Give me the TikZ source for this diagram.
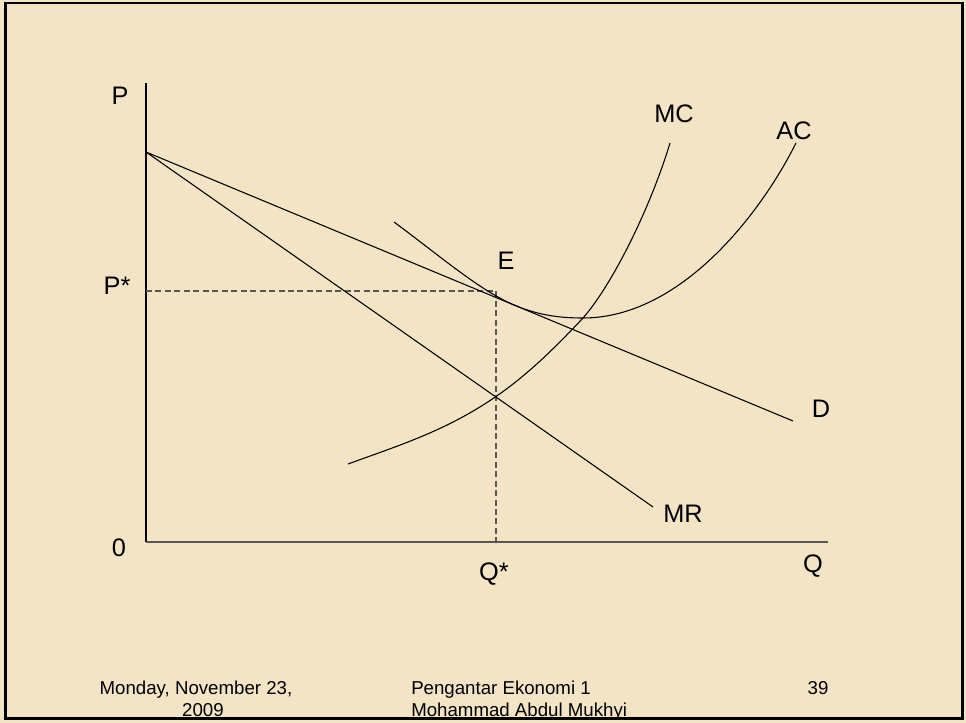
\documentclass[tikz,border=0pt]{standalone}
\usepackage{fontspec}
\setmainfont{Liberation Sans}
\usepackage{xcolor}
\usetikzlibrary{positioning}
\definecolor{paper}{RGB}{242,228,196}
\definecolor{axisgray}{RGB}{90,88,84}
\tikzset{
  lbl/.style={inner sep=0pt, anchor=base, font=\fontsize{19}{23}\selectfont},
  foot/.style={inner sep=0pt, anchor=base, font=\fontsize{14}{17}\selectfont},
  curve/.style={draw=black, line width=0.8pt},
  guide/.style={draw=axisgray, line width=1pt, dash pattern=on 4.5pt off 2.6pt},
  axis/.style={line width=1.1pt}
}

\begin{document}
\begin{tikzpicture}[x=0.75pt, y=-0.75pt]
  \useasboundingbox (0,0) rectangle (966,723);
  \fill[paper] (0,0) rectangle (966,723);
  % points of the diagram
  \coordinate (o) at (146,542);
  \coordinate (ytop) at (146,83);
  \coordinate (xend) at (828,542);
  \coordinate (a) at (146,152);
  \coordinate (dend) at (793,421);
  \coordinate (mrend) at (653,507);
  \coordinate (e) at (496,291);
  \coordinate (qs) at (496,542);
  \coordinate (ps) at (146,291);
  \coordinate (acmin) at (583,318);
  % axes and guides
  \draw[axis, black] (o) -- (ytop);
  \draw[axis, axisgray] (o) -- (xend);
  \draw[guide] (ps) -- (e) -- (qs);
  % demand and marginal revenue
  \draw[curve] (a) -- (dend);
  \draw[curve] (a) -- (mrend);
  % MC
  \draw[curve] (348,464) .. controls (398,445.7) and (446,431) .. (496,396.5)
    .. controls (526,375.8) and (552,351) .. (acmin)
    .. controls (612,285) and (650,209) .. (670,143);
  % AC
  \draw[curve] (394,222) .. controls (440,256) and (480,290.8) .. (515,305.4)
    .. controls (539,315.4) and (560,318) .. (acmin)
    .. controls (680,318) and (760,215) .. (796,143);
  % labels
  \node[lbl] (lp) at (120,105) {P};
  \node[lbl] (lps) at (117,295) {P*};
  \node[lbl] (lo) at (119,556) {0};
  \node[lbl] (lqs) at (494,580) {Q*};
  \node[lbl] (lq) at (813,572) {Q};
  \node[lbl] (le) at (506,270) {E};
  \node[lbl] (ld) at (821,417) {D};
  \node[lbl] (lmr) at (683,522) {MR};
  \node[lbl] (lmc) at (674,123) {MC};
  \node[lbl] (lac) at (794,140) {AC};
  % footer
  \node[foot] (date) at (196,694) {Monday, November 23,};
  \node[foot] (year) at (203,716) {2009};
  \node[foot, anchor=base west] (course) at (411,694) {Pengantar Ekonomi 1};
  \node[foot, anchor=base west] (author) at (411,716) {Mohammad Abdul Mukhyi};
  \node[foot] (page) at (818,694) {39};
  % slide frame
  \draw[line width=2pt] (5.5,3) rectangle (962.5,718.5);
\end{tikzpicture}
\end{document}
